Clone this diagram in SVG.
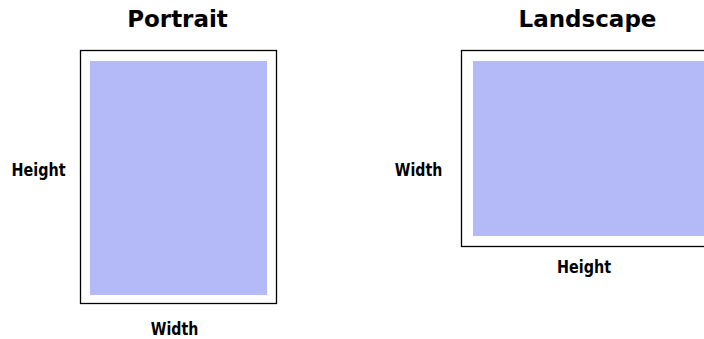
<svg xmlns="http://www.w3.org/2000/svg" width="704" height="339" viewBox="0 0 704 339">
<style>
.page{fill:#fff;stroke:#000;stroke-width:1.3}
.paper{fill:#B4BAF7}
.title{font-family:"DejaVu Sans",sans-serif;font-weight:bold;font-size:23px;fill:#000;text-anchor:middle}
.lbl{font-family:"DejaVu Sans Condensed","DejaVu Sans",sans-serif;font-stretch:condensed;font-weight:bold;font-size:18px;fill:#000;text-anchor:middle}
</style>
<rect width="704" height="339" fill="#fff"/>
<g id="portrait">
<text class="title" x="177.5" y="27">Portrait</text>
<rect class="page" x="80.5" y="50.5" width="196" height="253"/>
<rect class="paper" x="90" y="61" width="177" height="234"/>
<text class="lbl" x="38.5" y="176" textLength="54" lengthAdjust="spacingAndGlyphs">Height</text>
<text class="lbl" x="174.5" y="335" textLength="47.5" lengthAdjust="spacingAndGlyphs">Width</text>
</g>
<g id="landscape">
<text class="title" x="587.5" y="27">Landscape</text>
<rect class="page" x="461.5" y="50.5" width="260" height="196"/>
<rect class="paper" x="473" y="61" width="240" height="175"/>
<text class="lbl" x="418.5" y="176" textLength="47.5" lengthAdjust="spacingAndGlyphs">Width</text>
<text class="lbl" x="584" y="272.5" textLength="54" lengthAdjust="spacingAndGlyphs">Height</text>
</g>
</svg>
